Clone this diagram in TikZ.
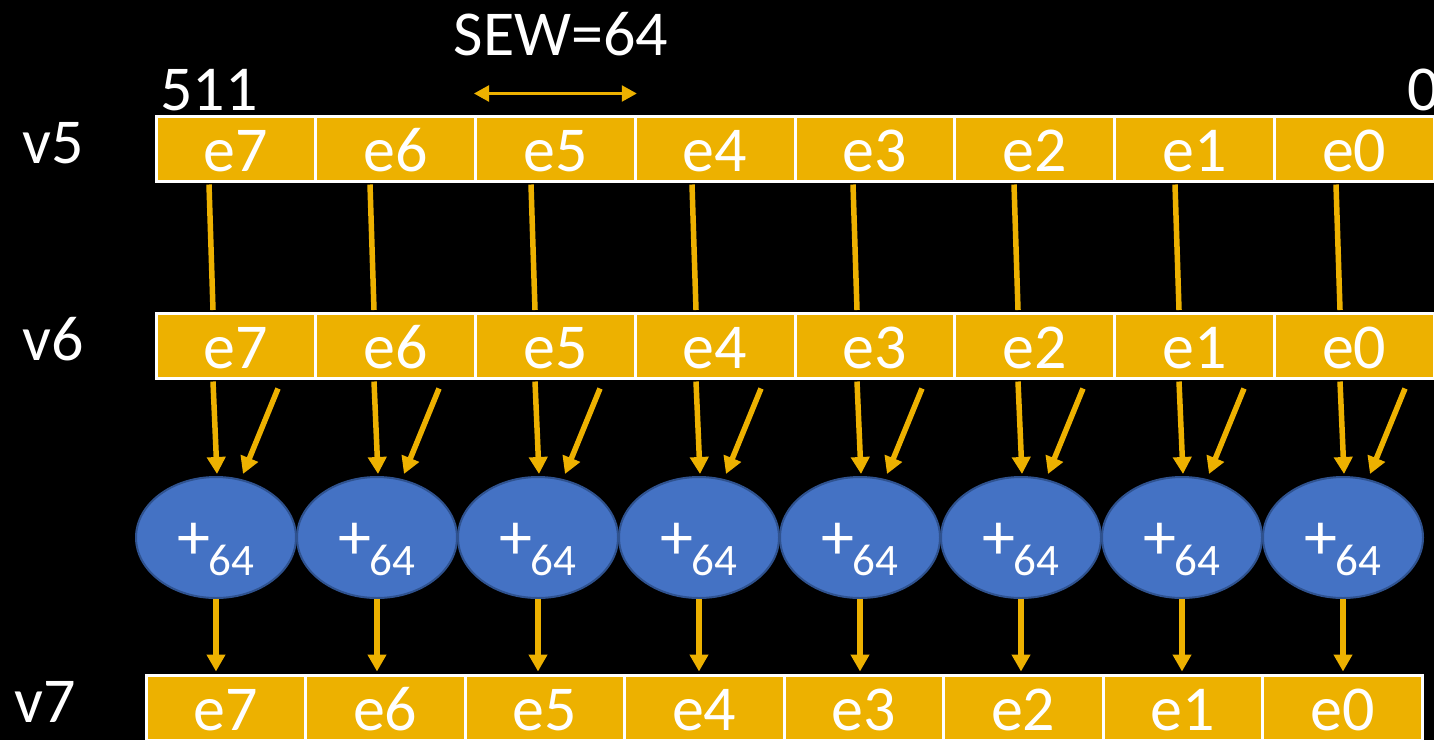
\documentclass[tikz,border=0pt]{standalone}
\usepackage{fontspec}
\setmainfont{Carlito}
\usetikzlibrary{arrows.meta,shapes.geometric,calc}
\definecolor{gold}{RGB}{237,177,0}
\definecolor{opblue}{RGB}{68,114,196}
\definecolor{opedge}{RGB}{47,82,143}
\newcommand\plusop{{\fontsize{66}{66}\selectfont+}\kern-2pt\raisebox{-16pt}{\fontsize{45}{45}\selectfont 64}}
\begin{document}
\begin{tikzpicture}[x=1pt,y=-1pt,
  cell/.style={draw=white,line width=3pt,fill=gold,minimum width=159.75pt,
    minimum height=65pt,inner sep=0pt,text=white,text height=46pt,text depth=0pt,
    font=\fontsize{64}{64}\selectfont},
  sumop/.style={ellipse,draw=opedge,line width=2pt,fill=opblue,minimum width=160pt,
    minimum height=121pt,inner sep=0pt,text=white,text height=44pt,text depth=0pt},
  lbl/.style={text=white,inner sep=0pt,font=\fontsize{64}{64}\selectfont},
  link/.style={draw=gold,line width=5.5pt},
  arr/.style={draw=gold,line width=5.5pt,-{Triangle[length=17pt,width=18pt]}}
]
% background and page size
\fill[black] (0,0) rectangle (1434,740);
\useasboundingbox (0,0) rectangle (1434,740);

% registers v5, v6, v7 and the adders
\foreach \k in {0,...,7} {
  \pgfmathtruncatemacro{\e}{7-\k}
  \node[cell] (a\k) at ({156+159.75*(\k+0.5)},148.5) {e\e};
  \node[cell] (b\k) at ({156+159.75*(\k+0.5)},345.5) {e\e};
  \node[sumop] (s\k) at ({216+161*\k},537.5) {\plusop};
  \node[cell,minimum width=159.5pt] (c\k) at ({146+159.5*(\k+0.5)},707.5) {e\e};
}

% data flow
\foreach \k in {0,...,7} {
  \draw[link] ($(a\k.south -| s\k.center)+(-7,2)$) -- ($(b\k.north -| s\k.center)+(-3,-1.5)$);
  \draw[arr] ($(b\k.south -| s\k.center)+(-3,2)$) -- ($(s\k.north)+(1,-2)$);
  \draw[arr] ($(b\k.south -| s\k.center)+(62,9)$) -- ($(s\k.north)+(27,-2)$);
  \draw[arr] (s\k.south) -- ($(s\k.south |- c\k.north)+(0,-2)$);
}

% element width marker
\draw[gold,line width=2.5pt,{Triangle[length=15pt,width=16pt]}-{Triangle[length=15pt,width=16pt]}]
  ($(a2.north west)+(0,-21)$) -- ($(a2.north east)+(0,-21)$);

% labels
\node[lbl,anchor=base] (sew) at (561,55) {SEW=64};
\node[lbl,anchor=base west] (msb) at (160,110) {511};
\node[lbl,anchor=base west] (lsb) at (1407,110) {0};
\node[lbl,anchor=base west] (r5) at (22,163) {v5};
\node[lbl,anchor=base west] (r6) at (22,360) {v6};
\node[lbl,anchor=base west] (r7) at (14,722) {v7};
\end{tikzpicture}
\end{document}
